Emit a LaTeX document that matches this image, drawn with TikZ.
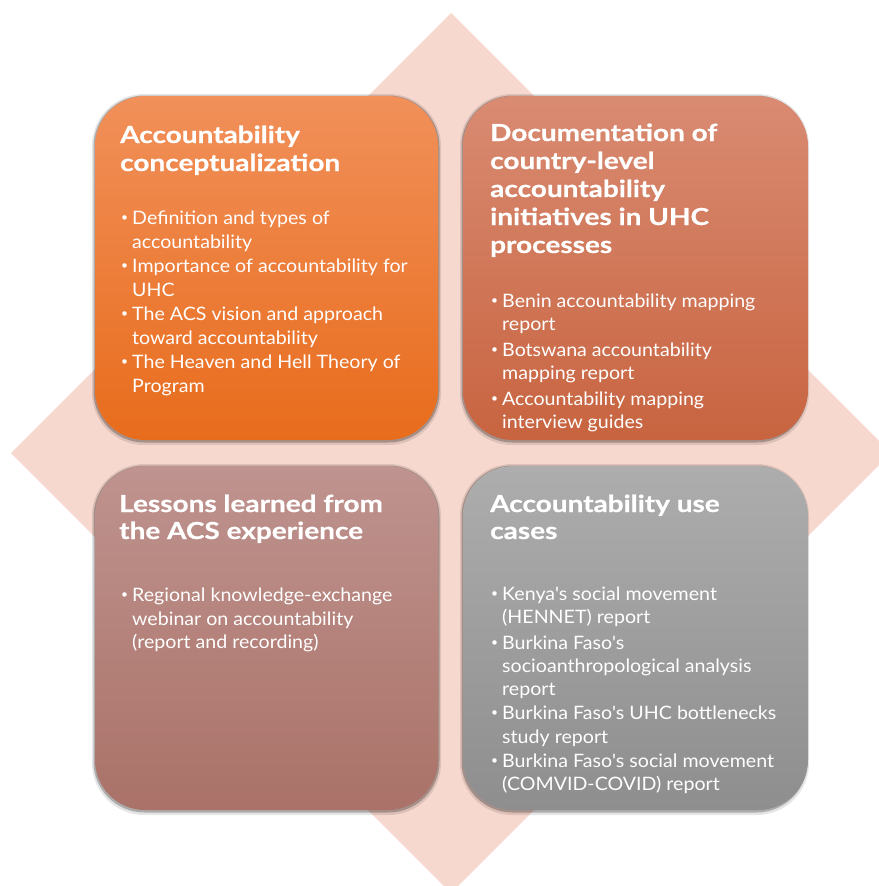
\documentclass[tikz,border=0pt]{standalone}
\usepackage{fontspec}
\setmainfont{Lato}
\newfontfamily\ttlfont[FakeStretch=1.19, FakeBold=0.6]{Lato}
\newfontfamily\bodfont[FakeStretch=1.06]{Lato}
\newcommand{\aq}{\textquotesingle}
\definecolor{dia}{HTML}{F7D8CE}
\definecolor{tlA}{HTML}{F1905A}\definecolor{tlB}{HTML}{E86C1C}
\definecolor{trA}{HTML}{D98B72}\definecolor{trB}{HTML}{C86440}
\definecolor{blA}{HTML}{BF938F}\definecolor{blB}{HTML}{AA7268}
\definecolor{brA}{HTML}{ADADAD}\definecolor{brB}{HTML}{8E8E8E}
\tikzset{
  ttl/.style={font=\ttlfont\fontsize{23.5}{28}\selectfont\bfseries, text=white, anchor=base west, inner sep=0pt},
  bod/.style={font=\bodfont\fontsize{18.5}{24}\selectfont, text=white, anchor=base west, inner sep=0pt},
  dot/.style={font=\fontsize{12}{16}\selectfont, text=white, anchor=base west, inner sep=0pt},
  shd/.style={fill=black, rounded corners=52pt},
  card/.style={rounded corners=50pt, shading=axis, shading angle=0}
}
\begin{document}
\begin{tikzpicture}[x=1pt,y=-1pt]
\useasboundingbox (0,0) rectangle (878,886);
% diamond
\fill[dia] (451,13) -- (891,453) -- (451,893) -- (11,453) -- cycle;
% shadows
\foreach \x/\y in {95/96,463/96,95/466,463/466}{
  \fill[shd, opacity=0.10] (\x-3,\y-2) rectangle (\x+346,\y+349);
  \fill[shd, opacity=0.25, rounded corners=51pt] (\x-1.5,\y-0.5) rectangle (\x+344.5,\y+346.5);
}
% cards
\path[card, top color=tlA, bottom color=tlB] (95,96) rectangle (438,440);
\path[card, top color=trA, bottom color=trB] (463,96) rectangle (808,440);
\path[card, top color=blA, bottom color=blB] (95,466) rectangle (438,810);
\path[card, top color=brA, bottom color=brB] (463,466) rectangle (808,810);

% ---- top left
\node[ttl] (tlt1) at (120,143) {Accountability};
\node[ttl] (tlt2) at (120,171) {conceptualization};
\node[dot] (tlb1) at (121,221) {•};
\node[bod] (tl1) at (132,224) {Definition and types of};
\node[bod] (tl2) at (132,248) {accountability};
\node[dot] (tlb2) at (121,269) {•};
\node[bod] (tl3) at (132,272) {Importance of accountability for};
\node[bod] (tl4) at (132,296) {UHC};
\node[dot] (tlb3) at (121,317) {•};
\node[bod] (tl5) at (132,320) {The ACS vision and approach};
\node[bod] (tl6) at (132,344) {toward accountability};
\node[dot] (tlb4) at (121,365) {•};
\node[bod] (tl7) at (132,368) {The Heaven and Hell Theory of};
\node[bod] (tl8) at (132,392) {Program};

% ---- top right
\node[ttl] (trt1) at (490,141) {Documentation of};
\node[ttl] (trt2) at (490,169) {country-level};
\node[ttl] (trt3) at (490,197) {accountability};
\node[ttl] (trt4) at (490,225) {initiatives in UHC};
\node[ttl] (trt5) at (490,253) {processes};
\node[dot] (trb1) at (491,304) {•};
\node[bod] (tr1) at (502,307) {Benin accountability mapping};
\node[bod] (tr2) at (502,330) {report};
\node[dot] (trb2) at (491,353) {•};
\node[bod] (tr3) at (502,356) {Botswana accountability};
\node[bod] (tr4) at (502,379) {mapping report};
\node[dot] (trb3) at (491,402) {•};
\node[bod] (tr5) at (502,405) {Accountability mapping};
\node[bod] (tr6) at (502,428) {interview guides};

% ---- bottom left
\node[ttl] (blt1) at (119,512) {Lessons learned from};
\node[ttl] (blt2) at (119,539) {the ACS experience};
\node[dot] (blb1) at (121,598) {•};
\node[bod] (bl1) at (132,601) {Regional knowledge-exchange};
\node[bod] (bl2) at (132,625) {webinar on accountability};
\node[bod] (bl3) at (132,648) {(report and recording)};

% ---- bottom right
\node[ttl] (brt1) at (490,512) {Accountability use};
\node[ttl] (brt2) at (490,539) {cases};
\node[dot] (brb1) at (491,597) {•};
\node[bod] (br1) at (502,600) {Kenya\aq s social movement};
\node[bod] (br2) at (502,623) {(HENNET) report};
\node[dot] (brb2) at (491,646) {•};
\node[bod] (br3) at (502,649) {Burkina Faso\aq s};
\node[bod] (br4) at (502,672) {socioanthropological analysis};
\node[bod] (br5) at (502,695) {report};
\node[dot] (brb3) at (491,716) {•};
\node[bod] (br6) at (502,719) {Burkina Faso\aq s UHC bottlenecks};
\node[bod] (br7) at (502,743) {study report};
\node[dot] (brb4) at (491,764) {•};
\node[bod] (br8) at (502,767) {Burkina Faso\aq s social movement};
\node[bod] (br9) at (502,790) {(COMVID-COVID) report};
\end{tikzpicture}
\end{document}
